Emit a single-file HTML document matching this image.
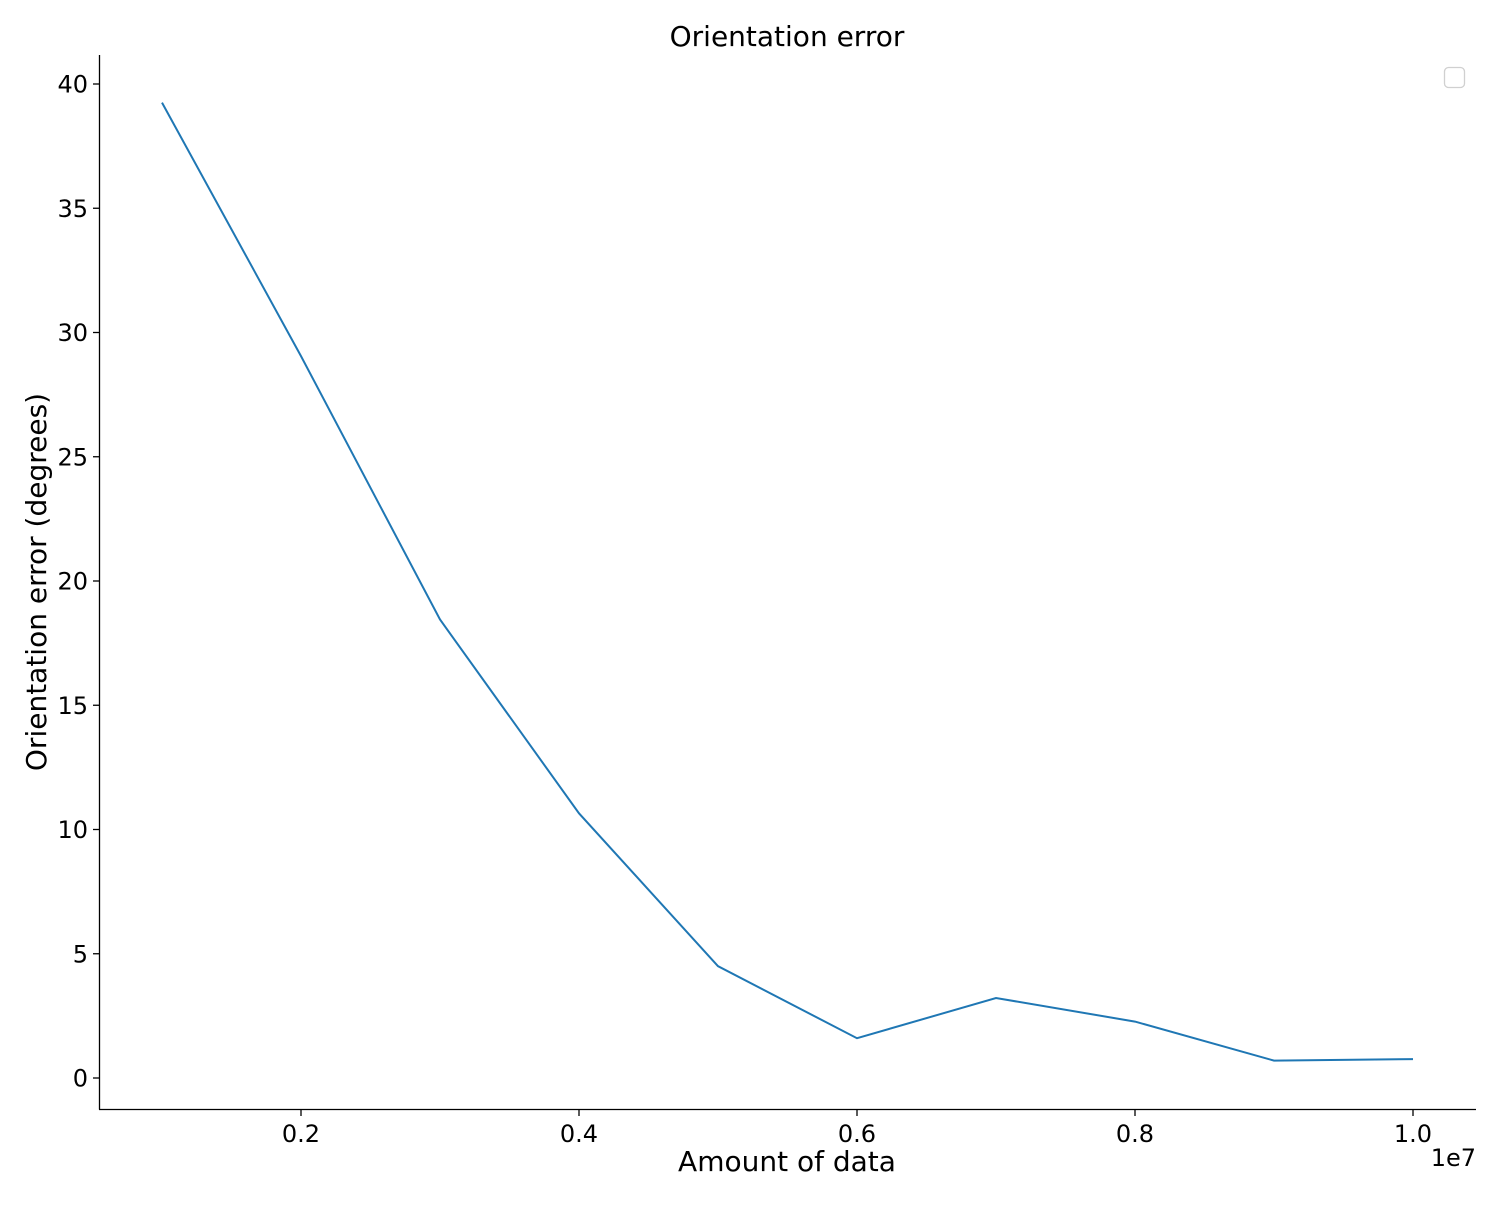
<!DOCTYPE html>
<html><head><meta charset="utf-8"><style>
body{margin:0;background:#fff;font-family:"Liberation Sans","DejaVu Sans",sans-serif}
svg text{font-family:"DejaVu Sans","Liberation Sans",sans-serif;fill:#000}
</style></head><body>
<svg width="1500" height="1200">
<g id="plot"></g>
</svg>
<script>
const xs=[0.1,0.2,0.3,0.4,0.5,0.6,0.7,0.8,0.9,1.0];
const ys=[39.25,29.05,18.45,10.65,4.5,1.6,3.22,2.27,0.7,0.76];
const xTicks=[0.2,0.4,0.6,0.8,1.0];
const xTickLabels=["0.2","0.4","0.6","0.8","1.0"];
const yTicks=[0,5,10,15,20,25,30,35,40];
const NS="http://www.w3.org/2000/svg";
const g=document.getElementById('plot');
const X=v=>162+(v-0.1)*1390;
const Y=v=>1078-v*24.85;
function mk(t,a,txt){const e=document.createElementNS(NS,t);for(const k in a)e.setAttribute(k,a[k]);if(txt!==undefined)e.textContent=txt;g.appendChild(e);return e;}
let e;
e=mk('line',{x1:99.5,y1:55,x2:99.5,y2:1109.5,stroke:'#000','stroke-width':1.3});


e=mk('line',{x1:99,y1:1109.5,x2:1476,y2:1109.5,stroke:'#000','stroke-width':1.3});


xTicks.forEach((t,i)=>{
 e=mk('line',{x1:X(t),y1:1109.5,x2:X(t),y2:1116,stroke:'#000','stroke-width':1.3});
 
 
 e=mk('text',{x:X(t),y:1142,'font-size':24,'text-anchor':'middle'},xTickLabels[i]);
 
 
});
yTicks.forEach(t=>{
 e=mk('line',{x1:93,y1:Y(t),x2:99.5,y2:Y(t),stroke:'#000','stroke-width':1.3});
 
 
 e=mk('text',{x:88,y:Y(t)+8.5,'font-size':24,'text-anchor':'end'},String(t));
 
 
});
e=mk('polyline',{points:xs.map((x,i)=>X(x)+','+Y(ys[i])).join(' '),fill:'none',stroke:'#1f77b4','stroke-width':2});


e=mk('text',{x:787,y:46,'font-size':28,'text-anchor':'middle'},'Orientation error');


e=mk('text',{x:787,y:1171,'font-size':28,'text-anchor':'middle'},'Amount of data');


e=mk('text',{x:1476,y:1166,'font-size':24,'text-anchor':'end'},'1e7');


e=mk('text',{x:46,y:582,'font-size':28,'text-anchor':'middle',transform:'rotate(-90 46 582)'},'Orientation error (degrees)');


e=mk('rect',{x:1444.5,y:67.5,width:20,height:20,rx:4,fill:'#fff',stroke:'#d0d0d0','stroke-width':1.3});


</script>
</body></html>
